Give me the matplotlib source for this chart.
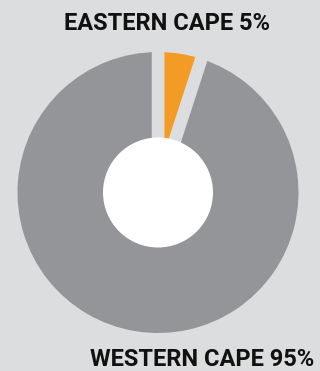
import matplotlib
matplotlib.use("Agg")
import matplotlib.pyplot as plt
from matplotlib.patches import Circle

labels = ["EASTERN CAPE", "WESTERN CAPE"]
values = [5, 95]
colors = ["#F39B25", "#939598"]
bg = "#DCDDDE"

W, H = 320, 371
fig = plt.figure(figsize=(W / 100, H / 100), dpi=100, facecolor=bg)
ax = fig.add_axes([0, 0, 1, 1])
ax.set_facecolor(bg)

cx, cy = 158, H - 192.5
gap_px = 12.5
ax.pie(values, colors=colors, startangle=90, counterclock=False,
       center=(cx, cy), radius=140.5 + gap_px / 2, frame=True,
       wedgeprops=dict(edgecolor=bg, linewidth=gap_px * 72 / 100))
ax.set_xlim(0, W)
ax.set_ylim(0, H)
ax.set_aspect("equal")
ax.axis("off")
ax.add_patch(Circle((cx, cy), 55, facecolor="white", edgecolor="none", zorder=5))

ax.text(167.5, H - 23.5, f"{labels[0]} {values[0]}%", ha="center", va="center",
        fontsize=17, fontweight="bold", family="Roboto", color="#111111")
ax.text(202.5, H - 360, f"{labels[1]} {values[1]}%", ha="center", va="center",
        fontsize=17, fontweight="bold", family="Roboto", color="#111111")

fig.savefig("out.png", dpi=100, facecolor=bg)
